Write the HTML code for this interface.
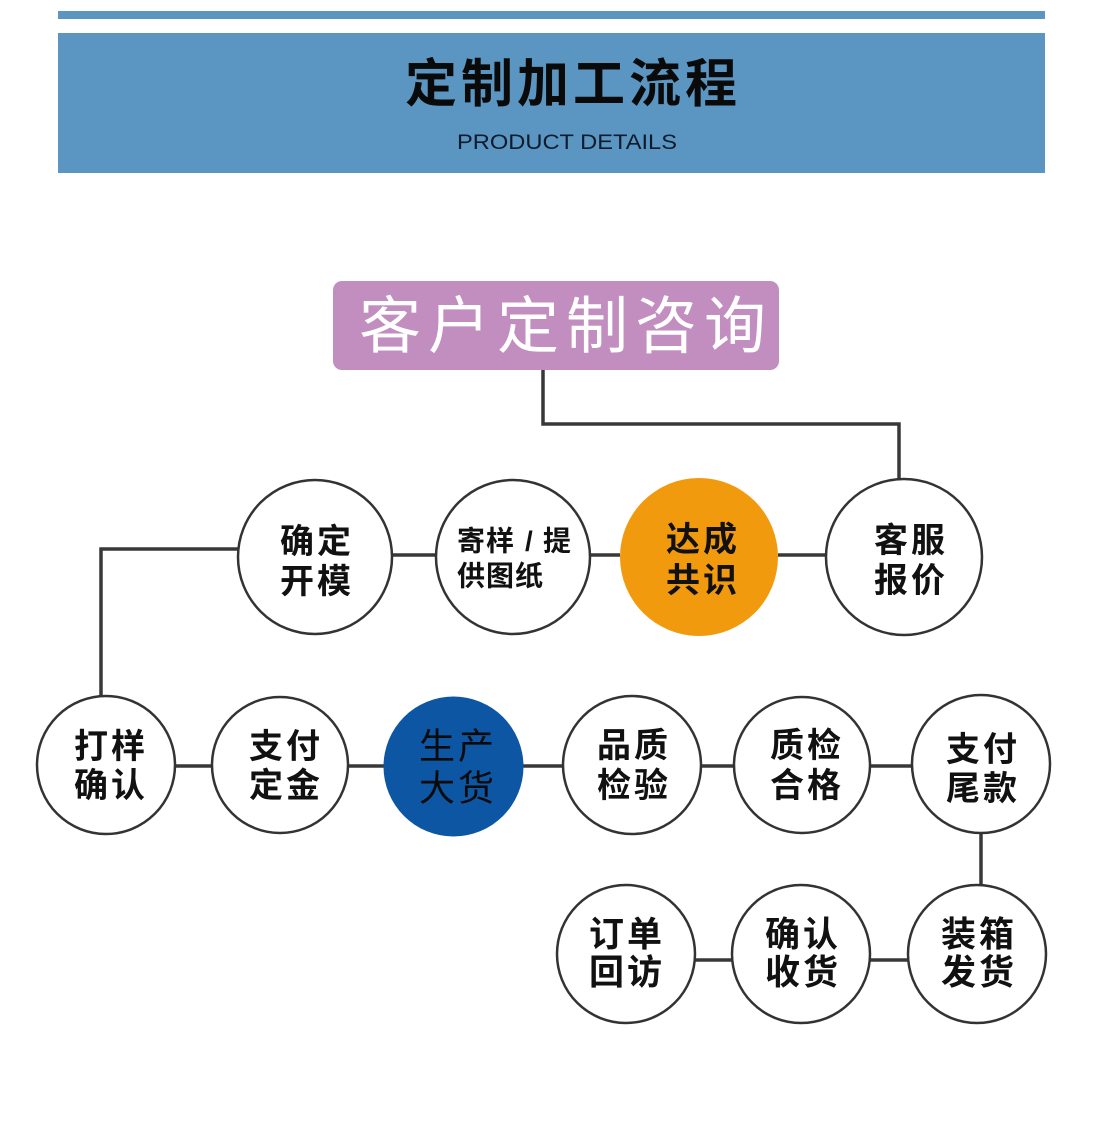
<!DOCTYPE html>
<html>
<head>
<meta charset="utf-8">
<style>
  html,body{margin:0;padding:0;background:#ffffff;}
  body{width:1099px;height:1147px;overflow:hidden;}
  svg{display:block;}
  .cjk{font-family:"Liberation Sans","Noto Sans CJK SC","WenQuanYi Zen Hei",sans-serif;}
</style>
</head>
<body>
<svg width="1099" height="1147" viewBox="0 0 1099 1147" xmlns="http://www.w3.org/2000/svg">
  <rect x="0" y="0" width="1099" height="1147" fill="#ffffff"/>
  <!-- header -->
  <rect x="58" y="11" width="987" height="8" fill="#5a96c1"/>
  <rect x="58" y="33" width="987" height="140" fill="#5a96c1"/>
  <text class="cjk" x="573" y="85" text-anchor="middle" dominant-baseline="central" font-size="52" font-weight="bold" letter-spacing="4" fill="#0a0a0a">定制加工流程</text>
  <text x="457" y="149" font-family="Liberation Sans, sans-serif" font-size="21" textLength="220" lengthAdjust="spacingAndGlyphs" fill="#0e1b2c">PRODUCT DETAILS</text>

  <!-- purple box -->
  <rect x="333" y="281" width="446" height="89" rx="9" ry="9" fill="#c18ebf"/>
  <text class="cjk" x="566" y="327" text-anchor="middle" dominant-baseline="central" font-size="62" letter-spacing="7" fill="#ffffff">客户定制咨询</text>

  <!-- connectors -->
  <g stroke="#383838" fill="none" stroke-width="3.5">
    <polyline points="543,370 543,424 899,424 899,480"/>
    <polyline points="238,549 101,549 101,698"/>
    <line x1="392" y1="555" x2="436" y2="555"/>
    <line x1="590" y1="555" x2="620" y2="555"/>
    <line x1="778" y1="555" x2="826" y2="555"/>
    <line x1="175" y1="766" x2="212" y2="766"/>
    <line x1="348" y1="766" x2="384" y2="766"/>
    <line x1="523" y1="766" x2="563" y2="766"/>
    <line x1="702" y1="766" x2="734" y2="766"/>
    <line x1="870" y1="766" x2="912" y2="766"/>
    <line x1="981" y1="832" x2="981" y2="886"/>
    <line x1="694" y1="960" x2="732" y2="960"/>
    <line x1="870" y1="960" x2="908" y2="960"/>
  </g>

  <!-- circles -->
  <g stroke="#333333" stroke-width="2.5" fill="#ffffff">
    <circle cx="315" cy="557" r="77"/>
    <circle cx="513" cy="557" r="77"/>
    <circle cx="904" cy="557" r="78"/>
    <circle cx="106" cy="765" r="69"/>
    <circle cx="280" cy="765" r="68"/>
    <circle cx="632" cy="765" r="69"/>
    <circle cx="802" cy="765" r="68"/>
    <circle cx="981" cy="764" r="69"/>
    <circle cx="626" cy="954" r="69"/>
    <circle cx="801" cy="954" r="69"/>
    <circle cx="977" cy="954" r="69"/>
  </g>
  <circle cx="699" cy="557" r="79" fill="#f29a0d"/>
  <circle cx="453.5" cy="766.5" r="70" fill="#0d56a3"/>

  <!-- circle labels -->
  <g class="cjk" fill="#111111" font-weight="bold" text-anchor="middle" dominant-baseline="central">
    <text x="317" y="542" font-size="34" letter-spacing="3">确定</text>
    <text x="317" y="582" font-size="34" letter-spacing="3">开模</text>

    <text x="703" y="540" font-size="34" letter-spacing="3">达成</text>
    <text x="703" y="581" font-size="34" letter-spacing="3">共识</text>

    <text x="911" y="541" font-size="34" letter-spacing="3">客服</text>
    <text x="911" y="581" font-size="34" letter-spacing="3">报价</text>

    <text x="111" y="747" font-size="34" letter-spacing="3">打样</text>
    <text x="111" y="786" font-size="34" letter-spacing="3">确认</text>

    <text x="286" y="747" font-size="34" letter-spacing="3">支付</text>
    <text x="286" y="786" font-size="34" letter-spacing="3">定金</text>

    <text x="634" y="746" font-size="34" letter-spacing="3">品质</text>
    <text x="634" y="786" font-size="34" letter-spacing="3">检验</text>

    <text x="807" y="746" font-size="34" letter-spacing="3">质检</text>
    <text x="807" y="786" font-size="34" letter-spacing="3">合格</text>

    <text x="983" y="750" font-size="34" letter-spacing="3">支付</text>
    <text x="983" y="789" font-size="34" letter-spacing="3">尾款</text>

    <text x="627" y="935" font-size="35" letter-spacing="3">订单</text>
    <text x="627" y="973" font-size="35" letter-spacing="3">回访</text>

    <text x="803" y="935" font-size="35" letter-spacing="3">确认</text>
    <text x="803" y="973" font-size="35" letter-spacing="3">收货</text>

    <text x="979" y="935" font-size="35" letter-spacing="3">装箱</text>
    <text x="979" y="973" font-size="35" letter-spacing="3">发货</text>
  </g>
  <g class="cjk" fill="#111111" font-weight="bold" dominant-baseline="central">
    <text x="457 486 525 543" y="541" font-size="28">寄样/提</text>
    <text x="457" y="576" font-size="28" letter-spacing="1">供图纸</text>
  </g>
  <g class="cjk" fill="#0a0a0a" text-anchor="middle" dominant-baseline="central">
    <text x="458" y="746" font-size="36" letter-spacing="3">生产</text>
    <text x="458" y="788" font-size="36" letter-spacing="3">大货</text>
  </g>
</svg>
</body>
</html>
